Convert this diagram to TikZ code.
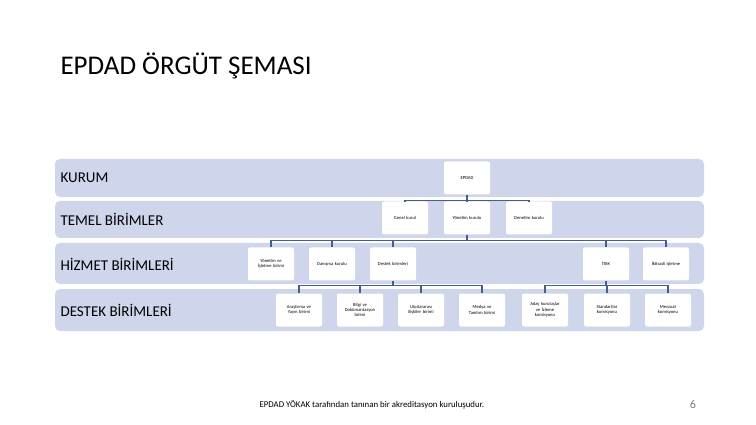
\documentclass[tikz,border=0pt]{standalone}
\usepackage{fontspec}
\setmainfont{Carlito}
\begin{document}
\begin{tikzpicture}[x=1pt,y=-1pt,
 band/.style={fill=bandc,rounded corners=5pt,draw=none},
 box/.style={fill=white,rounded corners=2pt,minimum width=46pt,minimum height=33pt,align=center,font=\fontsize{4.6}{5.4}\selectfont,inner sep=1pt,text width=42pt},
 lnk/.style={draw=linec,line width=1.2pt}]
\definecolor{bandc}{RGB}{207,213,234}
\definecolor{linec}{RGB}{68,94,140}
\useasboundingbox (0,0) rectangle (756,425);
\fill[white] (0,0) rectangle (756,425);
\node[anchor=west,font=\fontsize{27}{30}\selectfont] (title) at (57,66) {EPDAD ÖRGÜT ŞEMASI};
\fill[band] (55,159) rectangle (704,197);
\fill[band] (55,201) rectangle (704,238);
\fill[band] (55,243) rectangle (704,284);
\fill[band] (55,289) rectangle (704,331);
\foreach \t/\y/\n in {KURUM/178/l1,TEMEL BİRİMLER/219/l2,HİZMET BİRİMLERİ/264/l3,DESTEK BİRİMLERİ/310/l4}
 \node[anchor=west,font=\fontsize{15}{17}\selectfont] (\n) at (57,\y) {\t};
\node[box] (ep) at (467,178) {EPDAD};
\node[box] (gk) at (405,218) {Genel kurul};
\node[box] (yk) at (467,218) {Yönetim kurulu};
\node[box] (dk) at (529,218) {Denetim kurulu};
\node[box] (yi) at (271,264) {Yönetim ve\\İşletme birimi};
\node[box] (da) at (332,264) {Danışma kurulu};
\node[box] (db) at (393,264) {Destek birimleri};
\node[box] (it) at (606,264) {İTAK};
\node[box] (ik) at (666,264) {İktisadi işletme};
\node[box] (ar) at (299,310) {Araştırma ve\\Yayın birimi};
\node[box] (bd) at (360,310) {Bilgi ve\\Dokümantasyon\\birimi};
\node[box] (ui) at (421,310) {Uluslararası\\ilişkiler birimi};
\node[box] (mt) at (482,310) {Medya ve\\Tanıtım birimi};
\node[box] (ak) at (545,310) {Aday kuruluşlar\\ve İzleme\\komisyonu};
\node[box] (sk) at (607,310) {Standartlar\\komisyonu};
\node[box] (mk) at (668,310) {Mevzuat\\komisyonu};
\path[lnk] (ep.south) -- ++(0,6) coordinate (e1);
\foreach \c in {gk,yk,dk} \draw[lnk] (e1) -| (\c.north);
\path[lnk] (yk.south) -- ++(0,6) coordinate (y1);
\foreach \c in {yi,da,db,it,ik} \draw[lnk] (y1) -| (\c.north);
\path[lnk] (db.south) -- ++(0,5) coordinate (d1);
\foreach \c in {ar,bd,ui,mt} \draw[lnk] (d1) -| (\c.north);
\path[lnk] (it.south) -- ++(0,5) coordinate (t1);
\foreach \c in {ak,sk,mk} \draw[lnk] (t1) -| (\c.north);
\node[anchor=west,font=\fontsize{8.8}{10}\selectfont] (ft) at (256,405) {EPDAD YÖKAK tarafından tanınan bir akreditasyon kuruluşudur.};
\node[font=\fontsize{12}{14}\selectfont,text=gray] (pg) at (693,404) {6};
\end{tikzpicture}
\end{document}
